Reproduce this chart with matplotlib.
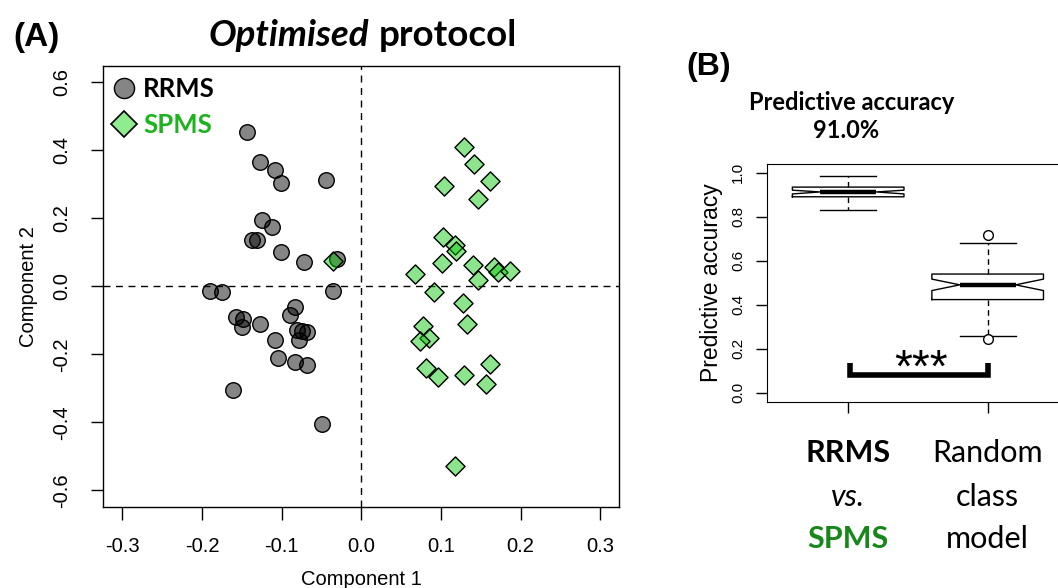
import matplotlib.pyplot as plt
from matplotlib.lines import Line2D
from matplotlib.ticker import FormatStrFormatter

plt.rcParams['font.family'] = 'Liberation Sans'
plt.rcParams['axes.unicode_minus'] = False

# (A) component scores
rrms_x = [-0.144, -0.127, -0.109, -0.101, -0.045, -0.125, -0.112, -0.137, -0.131, -0.101,
          -0.072, -0.031, -0.190, -0.175, -0.035, -0.083, -0.090, -0.157, -0.148, -0.150,
          -0.127, -0.081, -0.075, -0.068, -0.078, -0.109, -0.105, -0.083, -0.068, -0.161, -0.049]
rrms_y = [0.454, 0.366, 0.343, 0.305, 0.312, 0.195, 0.175, 0.136, 0.136, 0.100,
          0.072, 0.079, -0.014, -0.017, -0.014, -0.061, -0.085, -0.089, -0.096, -0.120,
          -0.110, -0.128, -0.130, -0.135, -0.157, -0.157, -0.212, -0.224, -0.231, -0.305, -0.406]
spms_x = [0.129, 0.141, 0.161, 0.104, 0.147, 0.102, 0.118, 0.119, 0.101, 0.140,
          0.067, 0.166, 0.171, 0.187, 0.147, 0.091, -0.036, 0.128, 0.133, 0.077,
          0.085, 0.074, 0.162, 0.081, 0.096, 0.129, 0.156, 0.117]
spms_y = [0.410, 0.359, 0.311, 0.295, 0.257, 0.146, 0.121, 0.104, 0.069, 0.062,
          0.035, 0.057, 0.042, 0.045, 0.018, -0.017, 0.074, -0.049, -0.111, -0.116,
          -0.152, -0.162, -0.227, -0.241, -0.266, -0.261, -0.286, -0.529]
pc_ticks = [-0.6, -0.4, -0.2, 0.0, 0.2, 0.4, 0.6]
pc1_ticks = [-0.3, -0.2, -0.1, 0.0, 0.1, 0.2, 0.3]

# (B) box plot summary values
box_pos = [1, 2]
box_med = [0.913, 0.491]
box_q1 = [0.891, 0.424]
box_q3 = [0.935, 0.540]
box_cilo = [0.904, 0.465]
box_cihi = [0.921, 0.517]
box_whislo = [0.833, 0.257]
box_whishi = [0.985, 0.681]
box_fliers = [[], [0.719, 0.243]]
acc_ticks = [0.0, 0.2, 0.4, 0.6, 0.8, 1.0]
bracket_x = [1.015, 1.015, 2.005, 2.005]
bracket_y = [0.134, 0.083, 0.083, 0.134]
group_lines = [
    [('RRMS', 'bold', 'normal', 'black'), ('vs.', 'normal', 'italic', 'black'),
     ('SPMS', 'bold', 'normal', '#17871a')],
    [('Random', 'normal', 'normal', 'black'), ('class', 'normal', 'normal', 'black'),
     ('model', 'normal', 'normal', 'black')],
]

fig = plt.figure(figsize=(10.58, 5.88), dpi=100)

# ---- panel A
ax = fig.add_axes([0.0976, 0.1383, 0.4879, 0.7495])
ax.axhline(0, color='black', lw=1, ls=(0, (5, 4)), zorder=1)
ax.axvline(0, color='black', lw=1, ls=(0, (5, 4)), zorder=1)
ax.scatter(rrms_x, rrms_y, s=125, facecolors=(0, 0, 0, 0.48), edgecolors='black',
           linewidths=1, zorder=3)
ax.scatter(spms_x, spms_y, s=95, marker='D', facecolors=(0, 0.78, 0, 0.45),
           edgecolors='black', linewidths=1, zorder=4)
ax.set_xlim(-0.324, 0.324)
ax.set_ylim(-0.648, 0.648)
ax.set_xticks(pc1_ticks)
ax.set_yticks(pc_ticks)
ax.xaxis.set_major_formatter(FormatStrFormatter('%.1f'))
ax.yaxis.set_major_formatter(FormatStrFormatter('%.1f'))
ax.tick_params(axis='both', direction='out', length=9, width=1, labelsize=14.5)
ax.tick_params(axis='x', pad=13)
ax.tick_params(axis='y', pad=14)
plt.setp(ax.get_yticklabels(), rotation=90, va='center')
ax.set_xlabel('Component 1', fontsize=14.5, labelpad=10)
ax.set_ylabel('Component 2', fontsize=14.5, labelpad=10)
for sp in ax.spines.values():
    sp.set_linewidth(1)

handles = [
    Line2D([], [], marker='o', ls='none', ms=14.5, mfc=(0, 0, 0, 0.48), mec='black', mew=1),
    Line2D([], [], marker='D', ls='none', ms=13.5, mfc=(0.56, 0.93, 0.56), mec='black', mew=1.2),
]
leg = ax.legend(handles, ['RRMS', 'SPMS'], loc='upper left', bbox_to_anchor=(0.0, 0.986),
                frameon=False, borderaxespad=0, borderpad=0.2, handletextpad=0.15,
                labelspacing=0.45, handlelength=1.2,
                prop={'family': 'Lato', 'weight': 'bold', 'size': 18.5})
leg.get_texts()[1].set_color('#1db31d')

# ---- panel B
axb = fig.add_axes([0.7252, 0.3168, 0.2848, 0.4043])
stats = []
for i in range(len(box_pos)):
    stats.append(dict(med=box_med[i], q1=box_q1[i], q3=box_q3[i], cilo=box_cilo[i],
                      cihi=box_cihi[i], whislo=box_whislo[i], whishi=box_whishi[i],
                      fliers=box_fliers[i]))
axb.bxp(stats, positions=box_pos, widths=0.8, shownotches=True,
        boxprops=dict(color='black', lw=1),
        medianprops=dict(color='black', lw=3.2, solid_capstyle='butt'),
        whiskerprops=dict(color='black', lw=1, ls=(0, (4, 3))),
        capprops=dict(color='black', lw=1),
        flierprops=dict(marker='o', mfc='white', mec='black', ms=7, mew=1))
axb.plot(bracket_x, bracket_y, color='black', lw=4, solid_joinstyle='miter',
         solid_capstyle='butt')
axb.text(1.52, 0.05, '***', ha='center', va='baseline', fontsize=33)
axb.set_xlim(0.42, 2.58)
axb.set_ylim(-0.04, 1.04)
axb.set_yticks(acc_ticks)
axb.yaxis.set_major_formatter(FormatStrFormatter('%.1f'))
axb.set_xticks(box_pos)
axb.set_xticklabels([])
axb.tick_params(axis='both', direction='out', length=8, width=1, labelsize=11)
axb.tick_params(axis='y', pad=8)
plt.setp(axb.get_yticklabels(), rotation=90, va='center')
axb.set_ylabel('Predictive accuracy', fontsize=16.5, labelpad=6)

line_y = [-0.2524, -0.4388, -0.6167]
for pos, lines in zip(box_pos, group_lines):
    for yy, (txt, wt, st, col) in zip(line_y, lines):
        axb.text(pos, yy, txt, transform=axb.get_xaxis_transform(), ha='center',
                 va='baseline', family='Lato', fontweight=wt, style=st, color=col,
                 fontsize=22)

# ---- titles
fig.text(0.0128, 1 - 46 / 588, '(A)', fontsize=24, fontweight='bold', va='baseline')
fig.text(369 / 1058, 1 - 46 / 588, 'Optimised', family='Lato', style='italic',
         fontweight='bold', fontsize=26.5, ha='right', va='baseline')
fig.text(379 / 1058, 1 - 46 / 588, 'protocol', family='Lato', fontweight='bold',
         fontsize=26.5, ha='left', va='baseline')
fig.text(686.7 / 1058, 1 - 75 / 588, '(B)', fontsize=23, fontweight='bold', va='baseline')
fig.text(851.7 / 1058, 1 - 110 / 588, 'Predictive accuracy', family='Lato',
         fontweight='bold', fontsize=17, ha='center', va='baseline')
fig.text(846.5 / 1058, 1 - 138 / 588, '91.0%', family='Lato', fontweight='bold',
         fontsize=17, ha='center', va='baseline')

fig.savefig('out.png', dpi=100)
